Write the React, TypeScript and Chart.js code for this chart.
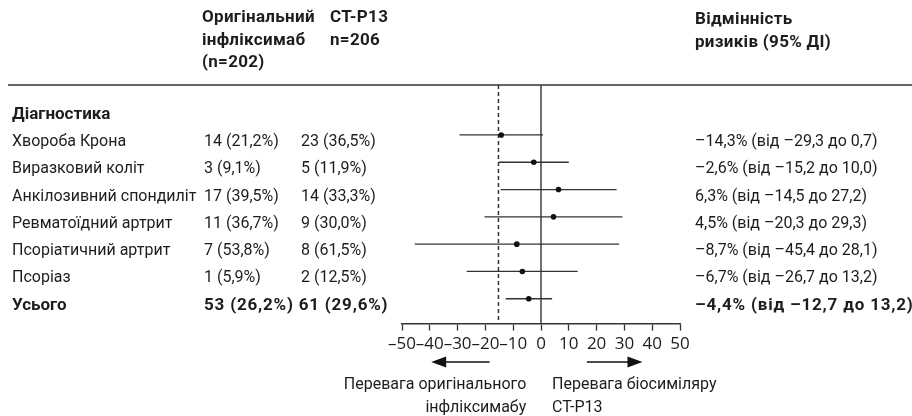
import { useEffect, useRef } from "react";
import { Chart, registerables } from "chart.js";

Chart.register(...registerables);

const diagnoses = [
  "Хвороба Крона",
  "Виразковий коліт",
  "Анкілозивний спондиліт",
  "Ревматоїдний артрит",
  "Псоріатичний артрит",
  "Псоріаз",
];
const sectionLabel = "Діагностика";
const totalLabel = "Усього";
const originalCounts = ["14 (21,2%)", "3 (9,1%)", "17 (39,5%)", "11 (36,7%)", "7 (53,8%)", "1 (5,9%)"];
const ctp13Counts = ["23 (36,5%)", "5 (11,9%)", "14 (33,3%)", "9 (30,0%)", "8 (61,5%)", "2 (12,5%)"];
const totalOriginal = "53 (26,2%)";
const totalCtp13 = "61 (29,6%)";

// rows: six diagnoses followed by the total
const riskDiff = [-14.3, -2.6, 6.3, 4.5, -8.7, -6.7, -4.4];
const ciLower = [-29.3, -15.2, -14.5, -20.3, -45.4, -26.7, -12.7];
const ciUpper = [0.7, 10.0, 27.2, 29.3, 28.1, 13.2, 4.0];
const riskText = [
  "–14,3% (від –29,3 до 0,7)",
  "–2,6% (від –15,2 до 10,0)",
  "6,3% (від –14,5 до 27,2)",
  "4,5% (від –20,3 до 29,3)",
  "–8,7% (від –45,4 до 28,1)",
  "–6,7% (від –26,7 до 13,2)",
  "–4,4% (від –12,7 до 13,2)",
];
const xTicks = [-50, -40, -30, -20, -10, 0, 10, 20, 30, 40, 50];
const marginLine = -15.3;

const headerOriginal = ["Оригінальний", "інфліксимаб", "(n=202)"];
const headerCtp13 = ["CT-P13", "n=206"];
const headerRisk = ["Відмінність", "ризиків (95% ДІ)"];
const favourLeft = ["Перевага оригінального", "інфліксимабу"];
const favourRight = ["Перевага біосиміляру", "CT-P13"];

const Y_MIN = -1.83;
const Y_MAX = 6.91;
const TEXT = "#1f1c1d";
const LINE = "#333333";
const FONT = "Roboto";

const textPlugin = {
  id: "forestText",
  afterDraw(chart: any) {
    const { ctx, chartArea } = chart;
    const x = chart.scales.x;
    const y = chart.scales.y;
    const reg = `16px ${FONT}`;
    const bold = `bold 17px ${FONT}`;
    const off = 7;
    ctx.save();
    ctx.fillStyle = TEXT;
    ctx.textBaseline = "middle";
    ctx.textAlign = "left";

    // headers
    ctx.font = bold;
    (ctx as any).letterSpacing = "0.3px";
    const hy = [18, 41, 63];
    headerOriginal.forEach((t, i) => ctx.fillText(t, 202, hy[i]));
    headerCtp13.forEach((t, i) => ctx.fillText(t, 330, hy[i]));
    headerRisk.forEach((t, i) => ctx.fillText(t, 695, hy[i] + 2));
    (ctx as any).letterSpacing = "0px";

    // header rule
    ctx.strokeStyle = LINE;
    ctx.lineWidth = 1.5;
    ctx.beginPath();
    ctx.moveTo(8, chartArea.top);
    ctx.lineTo(912, chartArea.top);
    ctx.stroke();

    // section label
    ctx.font = bold;
    ctx.fillText(sectionLabel, 12, y.getPixelForValue(-1) + off);

    // rows
    ctx.font = reg;
    diagnoses.forEach((d, i) => {
      const py = y.getPixelForValue(i) + off;
      ctx.fillText(d, 12, py);
      ctx.fillText(originalCounts[i], 204, py);
      ctx.fillText(ctp13Counts[i], 301, py);
      ctx.fillText(riskText[i], 695, py);
    });
    const ty = y.getPixelForValue(diagnoses.length) + off;
    ctx.font = bold;
    ctx.fillText(totalLabel, 12, ty);
    (ctx as any).letterSpacing = "0.8px";
    ctx.fillText(totalOriginal + " " + totalCtp13, 204, ty);
    ctx.fillText(riskText[diagnoses.length], 695, ty);
    (ctx as any).letterSpacing = "0px";

    // arrows
    const ay = 362;
    ctx.strokeStyle = "#111";
    ctx.fillStyle = "#111";
    ctx.lineWidth = 1.5;
    const l1 = x.getPixelForValue(-39.5);
    const l2 = x.getPixelForValue(-18.5);
    const r1 = x.getPixelForValue(16.5);
    const r2 = x.getPixelForValue(36.5);
    ctx.beginPath();
    ctx.moveTo(l1 + 12, ay);
    ctx.lineTo(l2, ay);
    ctx.moveTo(r1, ay);
    ctx.lineTo(r2 - 12, ay);
    ctx.stroke();
    ctx.beginPath();
    ctx.moveTo(l1, ay);
    ctx.lineTo(l1 + 15, ay - 5.5);
    ctx.lineTo(l1 + 15, ay + 5.5);
    ctx.closePath();
    ctx.moveTo(r2, ay);
    ctx.lineTo(r2 - 15, ay - 5.5);
    ctx.lineTo(r2 - 15, ay + 5.5);
    ctx.closePath();
    ctx.fill();

    // favour labels
    ctx.fillStyle = TEXT;
    ctx.font = reg;
    ctx.textAlign = "right";
    const fl = x.getPixelForValue(-5.3);
    favourLeft.forEach((t, i) => ctx.fillText(t, fl, 385 + i * 23));
    ctx.textAlign = "left";
    const fr = x.getPixelForValue(4);
    favourRight.forEach((t, i) => ctx.fillText(t, fr, 385 + i * 23));
    ctx.restore();
  },
};

export default function App() {
  const ref = useRef<HTMLCanvasElement | null>(null);
  useEffect(() => {
    if (!ref.current) return;
    const ciSets = ciLower.map((lo, i) => ({
      type: "line" as const,
      data: [
        { x: lo, y: i },
        { x: ciUpper[i], y: i },
      ],
      borderColor: LINE,
      borderWidth: 1.3,
      pointRadius: 0,
      showLine: true,
      order: 3,
    }));
    const chart = new Chart(ref.current, {
      type: "scatter",
      data: {
        datasets: [
          ...ciSets,
          {
            type: "line",
            data: [
              { x: 0, y: Y_MIN },
              { x: 0, y: Y_MAX },
            ],
            borderColor: LINE,
            borderWidth: 1.4,
            pointRadius: 0,
            showLine: true,
            order: 4,
          },
          {
            type: "line",
            data: [
              { x: marginLine, y: Y_MIN },
              { x: marginLine, y: Y_MAX },
            ],
            borderColor: LINE,
            borderWidth: 1.5,
            borderDash: [4, 3],
            pointRadius: 0,
            showLine: true,
            order: 4,
          },
          {
            type: "scatter",
            data: riskDiff.map((v, i) => ({ x: v, y: i })),
            pointRadius: 2.8,
            pointBackgroundColor: "#111",
            pointBorderWidth: 0,
            order: 1,
          },
        ] as any,
      },
      options: {
        animation: false,
        responsive: false,
        maintainAspectRatio: false,
        layout: { padding: { left: 402, right: 232, top: 85, bottom: 59 } },
        plugins: { legend: { display: false }, tooltip: { enabled: false } },
        scales: {
          x: {
            type: "linear",
            min: -50,
            max: 50,
            position: "bottom",
            afterBuildTicks: (s: any) => {
              s.ticks = xTicks.map((v) => ({ value: v }));
            },
            ticks: {
              autoSkip: false,
              maxRotation: 0,
              minRotation: 0,
              padding: 3,
              color: TEXT,
              font: { family: "Open Sans", size: 17 },
              callback: (v: any) => (Number(v) < 0 ? "–" + Math.abs(Number(v)) : String(v)),
            },
            grid: {
              drawOnChartArea: false,
              drawTicks: true,
              tickLength: 7,
              tickColor: LINE,
              tickWidth: 1.3,
            },
            border: { display: true, color: LINE, width: 1.5 },
          },
          y: { type: "linear", display: false, min: Y_MIN, max: Y_MAX, reverse: true },
        },
      } as any,
      plugins: [textPlugin],
    });
    return () => chart.destroy();
  }, []);
  return (
    <div style={{ position: "absolute", left: 0, top: 0, width: 912, height: 416, background: "#fff" }}>
      <canvas ref={ref} width={912} height={416} />
    </div>
  );
}
